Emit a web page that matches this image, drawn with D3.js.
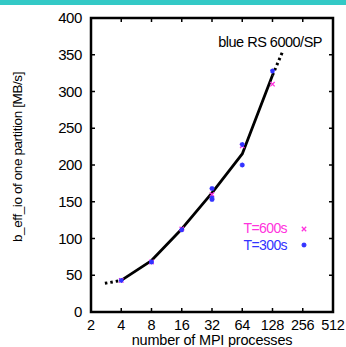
<!DOCTYPE html>
<html>
<head>
<meta charset="utf-8">
<script src="https://cdn.jsdelivr.net/npm/d3@7"></script>
<style>
  body { margin: 0; background: #fff; }
  text { font-family: "Liberation Sans", Arial, sans-serif; }
</style>
</head>
<body>
<div id="chart"></div>
<script>
var width = 346, height = 347;

// x ticks (log2 axis) and y ticks
var xTicks = [2, 4, 8, 16, 32, 64, 128, 256, 512];
var yTicks = [0, 50, 100, 150, 200, 250, 300, 350, 400];

// fitted curve, solid part
var curveX = [4, 8, 16, 32, 64, 128];
var curveY = [43, 70, 113, 162, 215, 322];
// dotted extrapolation at both ends
var leftDotX = [2.75, 4], leftDotY = [39, 43];
var rightDotX = [128, 161], rightDotY = [322, 354];

// measured points
var t600X = [4, 8, 16, 32, 64, 128];
var t600Y = [43, 68, 113, 160, 226, 310];
var t300X = [4, 8, 16, 32, 32, 32, 64, 64, 128];
var t300Y = [43, 68, 112, 168, 155, 153, 228, 200, 328];

var margin = {left: 91, right: 333, top: 18, bottom: 312};

var svg = d3.select("#chart").append("svg")
    .attr("width", width)
    .attr("height", height);

// teal strip at top of the slide
svg.append("rect").attr("x", 0).attr("y", 0).attr("width", width).attr("height", 5)
    .attr("fill", "#33c9c6");

var x = d3.scaleLog().base(2).domain([2, 512]).range([margin.left, margin.right]);
var y = d3.scaleLinear().domain([0, 400]).range([margin.bottom, margin.top]);

// tick labels
svg.selectAll(".xl").data(xTicks).enter().append("text")
    .attr("x", function(d) { return x(d); })
    .attr("y", margin.bottom + 18)
    .attr("text-anchor", "middle")
    .attr("font-size", 14.5)
    .attr("letter-spacing", -0.3)
    .text(function(d) { return d; });

svg.selectAll(".yl").data(yTicks).enter().append("text")
    .attr("x", margin.left - 9)
    .attr("y", function(d) { return y(d) + 5; })
    .attr("text-anchor", "end")
    .attr("font-size", 15)
    .attr("letter-spacing", -0.4)
    .text(function(d) { return d; });

// inward ticks on all four sides
var ticks = svg.append("g").attr("stroke", "#000").attr("stroke-width", 1.5);
xTicks.forEach(function(d) {
  ticks.append("line").attr("x1", x(d)).attr("x2", x(d)).attr("y1", margin.bottom).attr("y2", margin.bottom - 4);
  ticks.append("line").attr("x1", x(d)).attr("x2", x(d)).attr("y1", margin.top).attr("y2", margin.top + 4);
});
yTicks.forEach(function(d) {
  ticks.append("line").attr("x1", margin.left).attr("x2", margin.left + 4).attr("y1", y(d)).attr("y2", y(d));
  ticks.append("line").attr("x1", margin.right).attr("x2", margin.right - 4).attr("y1", y(d)).attr("y2", y(d));
});

// frame
svg.append("rect")
    .attr("x", margin.left).attr("y", margin.top)
    .attr("width", margin.right - margin.left).attr("height", margin.bottom - margin.top)
    .attr("fill", "none").attr("stroke", "#000").attr("stroke-width", 2.5);

var line = d3.line()
    .x(function(d) { return x(d[0]); })
    .y(function(d) { return y(d[1]); });

svg.append("path")
    .datum(d3.zip(curveX, curveY))
    .attr("d", line)
    .attr("fill", "none").attr("stroke", "#000").attr("stroke-width", 2.8)
    .attr("stroke-linejoin", "round");

[[leftDotX, leftDotY], [rightDotX, rightDotY]].forEach(function(p) {
  svg.append("path")
      .datum(d3.zip(p[0], p[1]))
      .attr("d", line)
      .attr("fill", "none").attr("stroke", "#000").attr("stroke-width", 3)
      .attr("stroke-dasharray", "2.5,3");
});

// markers: magenta x for T=600s, blue star for T=300s
function cross(g, cx, cy, s, col) {
  g.append("path")
    .attr("d", "M" + (cx - s) + "," + (cy - s) + "L" + (cx + s) + "," + (cy + s) +
               "M" + (cx - s) + "," + (cy + s) + "L" + (cx + s) + "," + (cy - s))
    .attr("stroke", col).attr("stroke-width", 1.3);
}
function star(g, cx, cy, s, col) {
  g.append("path")
    .attr("d", "M" + (cx - s) + "," + cy + "L" + (cx + s) + "," + cy +
               "M" + cx + "," + (cy - s) + "L" + cx + "," + (cy + s) +
               "M" + (cx - s * 0.7) + "," + (cy - s * 0.7) + "L" + (cx + s * 0.7) + "," + (cy + s * 0.7) +
               "M" + (cx - s * 0.7) + "," + (cy + s * 0.7) + "L" + (cx + s * 0.7) + "," + (cy - s * 0.7))
    .attr("stroke", col).attr("stroke-width", 1.3);
}

var marks = svg.append("g");
t600X.forEach(function(d, i) { cross(marks, x(d), y(t600Y[i]), 2.2, "#ff33dd"); });
t300X.forEach(function(d, i) { star(marks, x(d), y(t300Y[i]), 2.5, "#3333ff"); });

// legend
svg.append("text").attr("x", 287).attr("y", 233).attr("text-anchor", "end")
    .attr("font-size", 14).attr("letter-spacing", -0.6).attr("fill", "#ff33dd").text("T=600s");
cross(svg, 304, 229, 2.2, "#ff33dd");
svg.append("text").attr("x", 287).attr("y", 250).attr("text-anchor", "end")
    .attr("font-size", 14).attr("letter-spacing", -0.6).attr("fill", "#3333ff").text("T=300s");
star(svg, 304, 245, 2.5, "#3333ff");

svg.append("text").attr("x", 322).attr("y", 47).attr("text-anchor", "end")
    .attr("font-size", 14.5).attr("letter-spacing", -0.5).text("blue RS 6000/SP");

// axis titles
svg.append("text")
    .attr("transform", "translate(22,157) rotate(-90)")
    .attr("text-anchor", "middle").attr("font-size", 13.5).attr("letter-spacing", -0.4)
    .text("b_eff_io of one partition [MB/s]");

svg.append("text")
    .attr("x", 212).attr("y", 345)
    .attr("text-anchor", "middle").attr("font-size", 14.5).attr("letter-spacing", -0.2)
    .text("number of MPI processes");
</script>
</body>
</html>
